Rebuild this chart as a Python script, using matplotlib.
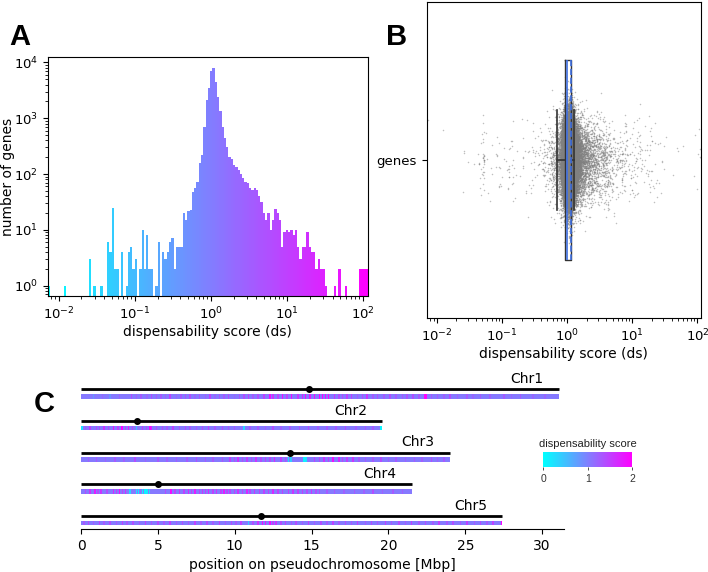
import numpy as np, matplotlib
matplotlib.use("Agg")
import matplotlib.pyplot as plt
from matplotlib.colors import Normalize
from matplotlib.cm import ScalarMappable
from statistics import NormalDist

plt.rcParams.update({"font.family":"DejaVu Sans","font.size":10})

# ── data: histogram of dispensability scores (log-spaced bins) ──
DS_LO,DS_HI=0.0072,117.0
N_BINS=140
counts=[1,0,0,0,0,0,0,1,0,0, 0,0,0,0,0,0,0,0,3,0,
        1,0,0,1,0,0,6,4,25,2, 2,0,4,0,1,4,5,2,3,0,
        2,10,2,8,2,2,0,1,6,0, 4,3,4,6,7,2,5,5,5,20,
        15,22,23,48,55,73,156,220,710,2140, 3450,6900,8100,4550,2450,1320,710,435,310,205,
        184,145,135,118,100,84,73,68,55,51, 55,51,40,32,20,15,20,10,15,24,
        20,15,5,9,10,9,10,8,10,5, 3,5,5,9,5,4,4,2,3,2,
        2,1,0,0,0,1,0,2,0,0, 1,0,0,0,0,0,2,2,2,2]

# box statistics
box_q1,box_med,box_q3=0.92,1.0,1.15
box_wlo,box_whi=0.70,1.27
box_mean=1.13

# ── data: pseudochromosomes ──
chrom_names=["Chr1","Chr2","Chr3","Chr4","Chr5"]
chrom_len=[31.1,19.6,24.0,21.5,27.4]
centromere=[14.8,3.64,13.6,5.03,11.7]
BASE_DS=1.05
chr1_spots=[(0.8,0.8),(1.4,1.2),(1.9,0.85),(2.5,1.2),(3.3,1.4),(3.6,1.25),(3.9,1.3),(4.3,1.2),(4.6,1.4),(4.9,1.3),
    (5.2,1.3),(5.5,1.25),(5.8,1.5),(6.2,1.2),(6.5,1.3),(6.8,1.35),(7.1,1.4),(7.4,1.2),(7.7,1.3),(8.1,1.25),
    (8.4,1.5),(8.7,1.2),(9.0,1.3),(9.3,1.3),(9.6,1.4),(10.0,1.2),(10.3,1.3),(10.6,1.4),(10.9,1.5),(11.2,1.3),
    (11.5,1.4),(11.9,1.5),(12.3,1.9),(12.5,1.6),(12.8,1.5),(13.1,1.9),(13.4,1.5),(13.7,1.9),(14.1,1.6),(14.4,1.7),
    (14.6,1.9),(14.9,1.8),(15.2,1.9),(15.5,2.0),(15.7,2.0),(15.9,1.9),(16.1,2.0),(16.5,1.6),(16.8,1.4),(17.0,1.4),
    (17.3,1.5),(17.6,1.5),(18.0,1.3),(18.3,1.4),(18.6,1.6),(19.0,1.3),(19.3,1.4),(19.7,1.3),(20.1,1.4),(20.5,1.3),
    (20.9,1.3),(21.2,1.35),(21.6,1.4),(22.0,1.3),(22.35,2.0),(22.45,2.0),(22.8,1.3),(23.2,1.3),(23.6,1.25),(24.0,1.4),
    (24.5,1.25),(25.1,1.3),(25.5,1.2),(26.0,1.3),(26.6,1.25),(27.5,1.3),(28.0,1.2),(28.6,1.3),(29.4,1.2),(30.2,1.2)]
chr2_spots=[(0.05,0.2),(0.3,1.3),(0.6,1.5),(1.0,1.4),(1.2,1.3),(1.5,1.6),(1.8,1.4),(2.1,1.9),(2.4,1.5),(2.65,2.0),
    (2.9,1.5),(3.1,1.8),(3.35,1.4),(3.6,0.5),(4.0,1.5),(4.25,1.4),(4.5,1.9),(4.6,1.7),(4.9,1.4),(5.3,1.4),
    (5.6,1.3),(6.0,1.5),(6.4,1.3),(6.8,1.4),(7.1,1.3),(7.5,1.3),(7.9,1.4),(8.3,1.5),(8.7,1.3),(9.2,1.4),
    (9.6,1.3),(10.0,1.3),(10.6,0.3),(11.0,1.3),(11.5,1.3),(12.0,1.25),(12.5,1.4),(13.0,1.25),(13.6,1.3),(14.2,1.3),
    (14.8,1.4),(15.4,1.25),(16.0,1.3),(16.6,1.3),(17.2,1.4),(17.9,1.25),(18.5,1.3),(19.0,1.3),(19.5,0.1)]
chr3_spots=[(0.5,1.25),(1.0,1.3),(1.6,1.25),(2.2,1.3),(2.8,1.25),(3.5,1.4),(4.2,1.25),(5.0,1.3),(5.6,1.25),(6.2,1.3),
    (6.9,1.3),(7.5,1.4),(8.1,1.3),(8.6,1.3),(9.2,1.35),(9.7,1.5),(10.0,1.4),(10.2,1.6),(10.5,1.4),(10.8,1.5),
    (11.1,1.4),(11.4,1.6),(11.7,1.4),(12.0,1.5),(12.3,1.4),(12.6,1.7),(13.0,1.5),(13.3,1.4),(13.5,0.2),(13.65,0.4),
    (14.5,0.1),(14.65,0.2),(15.2,1.5),(15.5,1.4),(15.8,1.6),(16.1,1.5),(16.4,1.9),(16.8,1.7),(17.0,1.5),(17.3,1.5),
    (17.7,1.6),(18.1,1.3),(18.5,1.3),(19.0,1.3),(19.5,1.4),(20.0,1.25),(20.5,1.3),(21.1,1.25),(21.7,1.3),(22.2,1.25),
    (22.8,1.4),(23.2,1.25),(23.6,1.3)]
chr4_spots=[(0.3,1.4),(0.6,1.6),(0.9,1.8),(1.1,1.4),(1.3,1.6),(1.7,1.4),(2.1,1.7),(2.3,1.5),(2.5,1.9),(2.7,1.5),
    (2.9,1.6),(3.2,0.3),(3.6,0.2),(3.75,0.15),(4.0,0.1),(4.15,0.1),(4.3,0.15),(4.45,0.3),(5.5,1.4),(5.85,1.9),
    (6.1,1.5),(6.4,1.6),(6.7,1.5),(7.0,1.7),(7.2,1.5),(7.4,1.8),(7.7,1.5),(7.9,1.6),(8.1,1.5),(8.3,1.7),
    (8.6,1.5),(8.8,1.6),(9.1,1.5),(9.3,1.8),(9.5,1.5),(9.7,1.5),(10.0,1.5),(10.2,1.6),(10.5,1.5),(10.8,1.7),
    (11.0,1.5),(11.3,1.6),(11.6,1.5),(11.9,1.5),(12.2,1.5),(12.5,1.7),(12.8,1.5),(13.1,1.5),(13.5,1.5),(13.8,1.6),
    (14.1,1.5),(14.4,1.5),(14.7,1.4),(15.0,1.6),(15.3,1.4),(15.5,1.4),(16.0,1.3),(16.5,1.3),(17.1,1.25),(17.8,1.3),
    (18.4,1.25),(19.0,1.4),(19.6,1.25),(20.3,1.3),(20.9,1.25)]
chr5_spots=[(0.2,1.3),(0.5,1.4),(0.8,1.3),(1.2,1.5),(1.5,1.3),(1.9,1.4),(2.3,1.3),(2.7,1.5),(3.0,1.3),(3.4,1.4),
    (3.8,1.3),(4.2,1.5),(4.6,1.3),(5.0,1.4),(5.4,1.3),(5.8,1.5),(6.2,1.3),(6.6,1.4),(7.0,1.3),(7.4,1.5),
    (7.8,1.3),(8.2,1.4),(8.6,1.3),(9.0,1.5),(9.4,1.3),(9.8,1.4),(10.1,1.3),(10.4,1.5),(10.9,0.4),(11.2,1.4),
    (11.5,1.6),(11.8,1.9),(12.0,1.8),(12.3,1.9),(12.5,1.5),(12.7,1.6),(13.0,1.4),(13.3,1.5),(13.7,1.3),(14.0,1.4),
    (14.4,1.3),(14.8,1.5),(15.2,1.3),(15.6,1.4),(16.0,1.3),(16.4,1.5),(16.8,1.3),(17.2,1.4),(17.6,1.3),(18.0,1.5),
    (18.5,1.3),(18.9,1.4),(19.3,1.3),(19.8,1.5),(20.2,1.3),(20.7,1.4),(21.1,1.3),(21.5,1.5),(22.0,1.3),(22.4,1.4),
    (22.9,1.3),(23.3,1.5),(23.8,1.3),(24.2,1.4),(24.7,1.3),(25.1,1.5),(25.6,1.3),(26.0,1.4),(26.4,1.3),(26.8,1.5),
    (27.35,2.0)]
chrom_spots=[chr1_spots,chr2_spots,chr3_spots,chr4_spots,chr5_spots]

cmap=plt.get_cmap("cool")
edges=np.logspace(np.log10(DS_LO),np.log10(DS_HI),N_BINS+1)
centers=np.sqrt(edges[:-1]*edges[1:])

fig=plt.figure(figsize=(7.08,5.72),dpi=100)

# ── A: histogram ──
axA=fig.add_axes([0.0674,0.4825,0.4524,0.4178])
_,_,patches=axA.hist(centers,bins=edges,weights=counts,log=True)
for i,p in enumerate(patches):
    p.set_facecolor(cmap(i/(N_BINS-1))); p.set_edgecolor("none")
axA.set_xscale("log")
axA.set_xlim(DS_LO,DS_HI); axA.set_ylim(0.65,1.25e4)
axA.tick_params(labelsize=9.5)
axA.set_xlabel("dispensability score (ds)",labelpad=2)
axA.set_ylabel("number of genes")
axA.yaxis.set_label_coords(-0.103,0.5)

# ── B: strip + box ──
axB=fig.add_axes([0.6027,0.4441,0.3870,0.5524])
def jit(k,s):   # deterministic hash jitter in (0,1)
    v=np.sin(k*12.9898+s*78.233)*43758.5453
    return min(max(v-np.floor(v),1e-6),1-1e-6)
nd=NormalDist(1.0,0.065)
xs=[];ys=[];k=0
for lo,hi,c in zip(edges[:-1],edges[1:],counts):
    for j in range(int(c)):
        xs.append(10**(np.log10(lo)+jit(k,1)*(np.log10(hi)-np.log10(lo))))
        ys.append(nd.inv_cdf(jit(k,2))); k+=1
axB.scatter(xs,ys,s=1.2,color="#808080",alpha=0.5,linewidths=0,zorder=1)
stats=[dict(med=box_med,q1=box_q1,q3=box_q3,whislo=box_wlo,whishi=box_whi,mean=box_mean,fliers=[])]
axB.bxp(stats,positions=[1],widths=0.63,vert=False,showmeans=True,meanline=True,showfliers=False,
    boxprops=dict(color="#333333",linewidth=1),whiskerprops=dict(color="#333333",linewidth=1.2),
    capprops=dict(color="#333333",linewidth=1.2),medianprops=dict(color="#3f6fe0",linewidth=1.2),
    meanprops=dict(color="#3f6fe0",linestyle="--",linewidth=1.2),zorder=3)
axB.set_xscale("log")
axB.set_xlim(10**-2.153,10**2.05); axB.set_ylim(1.5,0.5)
axB.set_yticks([1]); axB.set_yticklabels(["genes"])
axB.tick_params(labelsize=9.5)
axB.set_xlabel("dispensability score (ds)",labelpad=2)

# ── C: pseudochromosomes ──
axC=fig.add_axes([81/708,0.0752,483/708,0.2692])
norm=Normalize(0,2)
OFF,H,W=0.22,0.15,0.1
for k,(name,L,cen,spots) in enumerate(zip(chrom_names,chrom_len,centromere,chrom_spots)):
    axC.barh(k+OFF,L,left=0,height=H,color=cmap(norm(BASE_DS)),linewidth=0)
    pos=[p for p,_ in spots]; val=[v for _,v in spots]
    axC.bar(pos,H,bottom=k+OFF-H/2,width=W,color=[cmap(norm(v)) for v in val],linewidth=0)
    axC.hlines(k,0,L,color="black",linewidth=2)
    axC.plot(cen,k,"o",color="black",markersize=4)
    axC.text(L-1.0,k-0.1,name,ha="right",va="bottom",fontsize=10)
axC.set_xlim(0,31.42); axC.set_ylim(4.41,-0.45)
for s in ["left","top","right"]: axC.spines[s].set_visible(False)
axC.set_yticks([])
axC.set_xticks([0,5,10,15,20,25,30])
axC.set_xlabel("position on pseudochromosome [Mbp]")

cax=fig.add_axes([543.3/708,0.1841,88.7/708,0.0252])
cb=fig.colorbar(ScalarMappable(norm=norm,cmap=cmap),cax=cax,orientation="horizontal")
cb.set_ticks([0,1,2]); cb.outline.set_visible(False)
cax.tick_params(labelsize=7.5,length=2,width=0.6,colors="#333333")
for t in cax.get_xticklabels(): t.set_family("Liberation Sans")
cax.set_title("dispensability score",fontsize=8,pad=4,family="Liberation Sans",color="#222222")

for lbl,x,y in [("A",20,37),("B",397,37),("C",44,404)]:
    fig.text(x/708,1-y/572,lbl,fontsize=21,fontweight="bold",family="Liberation Sans",ha="center",va="center")

fig.savefig("out.png",dpi=100)
